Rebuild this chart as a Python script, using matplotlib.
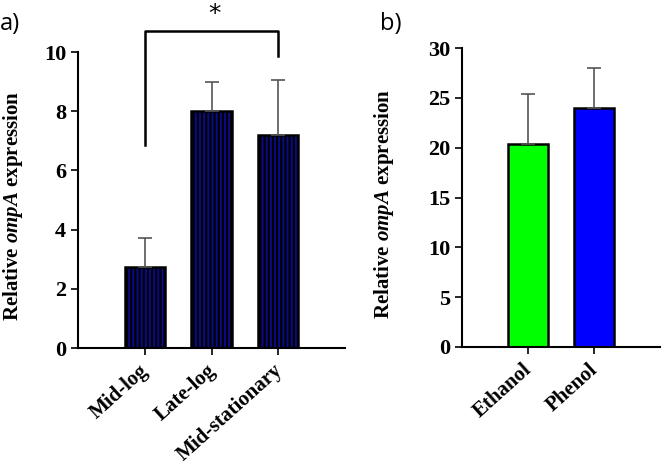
import matplotlib
matplotlib.use('Agg')
import matplotlib.pyplot as plt
import matplotlib.transforms as mtransforms

plt.rcParams['font.family'] = 'Liberation Serif'
plt.rcParams['font.weight'] = 'bold'
plt.rcParams['axes.labelweight'] = 'bold'
plt.rcParams['mathtext.fontset'] = 'custom'
plt.rcParams['mathtext.it'] = 'Liberation Serif:italic:bold'
plt.rcParams['mathtext.rm'] = 'Liberation Serif:bold'
plt.rcParams['hatch.linewidth'] = 1.6

# panel a: growth phase
phases = ['Mid-log', 'Late-log', 'Mid-stationary']
phase_expr = [2.72, 8.02, 7.2]
phase_err = [0.98, 0.95, 1.87]

# panel b: solvents
solvents = ['Ethanol', 'Phenol']
solvent_expr = [20.4, 24.0]
solvent_err = [5.0, 4.0]
solvent_colors = ['#00ff00', '#0000ff']

ylabel = r'Relative $\mathit{ompA}$ expression'

fig = plt.figure(figsize=(6.66, 4.66), dpi=100)
ax1 = fig.add_axes([78/666, 1-348/466, 267/666, 296/466])
ax2 = fig.add_axes([462/666, 1-347/466, 198/666, 299/466])

# shift x tick labels a little left and up, like the original
shift = mtransforms.ScaledTranslation(-4/72, 2/72, fig.dpi_scale_trans)


def style(ax, label_x):
    for s in ['top', 'right']:
        ax.spines[s].set_visible(False)
    for s in ['left', 'bottom']:
        ax.spines[s].set_linewidth(1.5)
    ax.tick_params(direction='out', length=5, width=1.2)
    ax.tick_params(axis='y', labelsize=16)
    ax.tick_params(axis='x', labelsize=15, pad=6)
    ax.set_ylabel(ylabel, fontsize=15)
    ax.yaxis.set_label_coords(label_x, 0.48)
    for lab in ax.get_yticklabels():
        lab.set_fontweight('bold')
    for lab in ax.get_xticklabels():
        lab.set_fontweight('bold')
        lab.set_transform(lab.get_transform() + shift)


x1 = list(range(len(phases)))
ax1.bar(x1, phase_expr, width=0.6, color='#0a0a8a', edgecolor='black',
        linewidth=1.8, hatch='||||')
ax1.errorbar(x1, phase_expr, yerr=[[0]*len(x1), phase_err], fmt='none',
             ecolor='#555555', elinewidth=1.2, capsize=5, capthick=1.2)
ax1.set_xlim(-1, 3)
ax1.set_ylim(0, 10)
ax1.set_yticks([0, 2, 4, 6, 8, 10])
ax1.set_xticks(x1)
ax1.set_xticklabels(phases, rotation=42, ha='right', rotation_mode='anchor')
style(ax1, -0.2)

# significance bracket
ax1.plot([0, 0, 2, 2], [6.86, 10.7, 10.7, 9.86], color='black', lw=1.8,
         clip_on=False)
ax1.text(1.05, 11.3, '*', ha='center', va='center', fontsize=18,
         fontweight='normal', family='DejaVu Sans')

x2 = list(range(len(solvents)))
ax2.bar(x2, solvent_expr, width=0.6, color=solvent_colors, edgecolor='black',
        linewidth=1.8)
ax2.errorbar(x2, solvent_expr, yerr=[[0]*len(x2), solvent_err], fmt='none',
             ecolor='#555555', elinewidth=1.2, capsize=5, capthick=1.2)
ax2.set_xlim(-1, 2)
ax2.set_ylim(0, 30)
ax2.set_yticks([0, 5, 10, 15, 20, 25, 30])
ax2.set_xticks(x2)
ax2.set_xticklabels(solvents, rotation=42, ha='right', rotation_mode='anchor')
style(ax2, -0.335)

fig.text(0.0, 0.975, 'a)', fontsize=17, fontweight='normal',
         family='Open Sans', va='top', ha='left')
fig.text(380/666, 0.975, 'b)', fontsize=17, fontweight='normal',
         family='Open Sans', va='top', ha='left')

fig.savefig('out.png', dpi=100)
